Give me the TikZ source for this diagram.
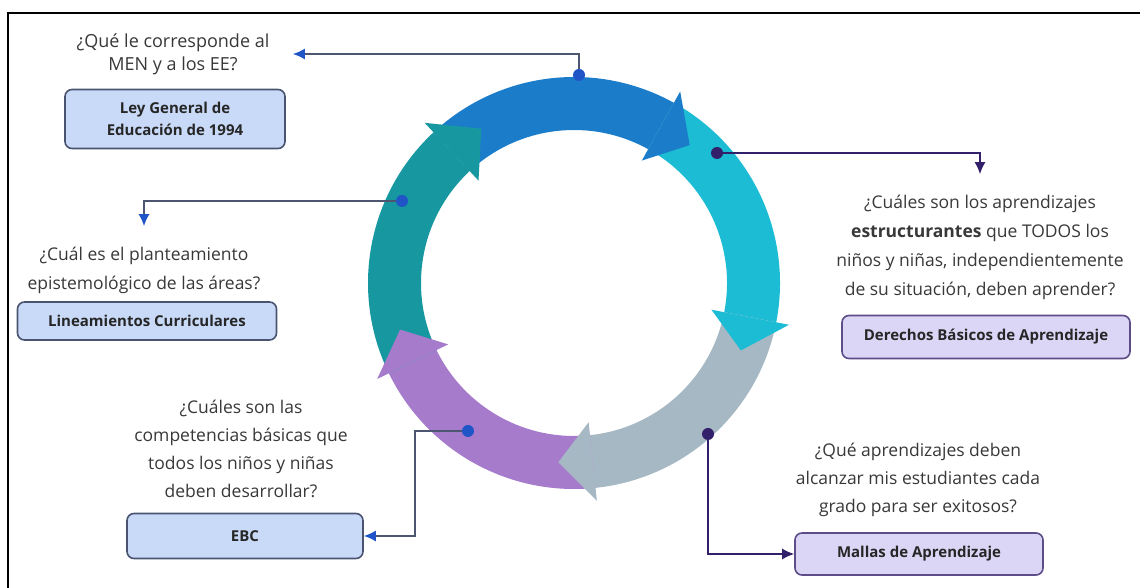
\documentclass[tikz,border=0pt]{standalone}
\usepackage{fontspec}
\setmainfont{Open Sans}
\usepackage{xcolor}
\usetikzlibrary{arrows.meta,positioning,calc}
\definecolor{ringblue}{HTML}{1B7DC9}
\definecolor{ringcyan}{HTML}{1DBCD5}
\definecolor{ringgray}{HTML}{A5B8C3}
\definecolor{ringpurple}{HTML}{A67BCC}
\definecolor{ringteal}{HTML}{17979F}
\definecolor{dotblue}{HTML}{1F55C6}
\definecolor{dotplum}{HTML}{33206A}
\definecolor{wireslate}{HTML}{4D5670}
\definecolor{boxblue}{HTML}{C9DAF8}
\definecolor{boxlila}{HTML}{DCD6F6}
\definecolor{boxedge}{HTML}{4A5470}
\definecolor{txtgray}{HTML}{383838}

\begin{document}
\begin{tikzpicture}[
    x=1pt,y=1pt,
    qs/.style    = {align=center,text=txtgray,font=\fontsize{17.5}{29}\selectfont},
    boxb/.style  = {rectangle,rounded corners=7pt,draw=boxedge,line width=1.6pt,fill=boxblue,
                    align=center,text=black!85,font=\fontsize{15}{22}\selectfont\bfseries},
    boxl/.style  = {boxb,fill=boxlila,draw=dotplum!80},
    dot/.style   = {circle,inner sep=0pt,minimum size=12pt},
    wb/.style    = {-{Latex[length=12pt,width=11pt,color=dotblue]},wireslate,line width=1.5pt},
    wp/.style    = {-{Latex[length=12pt,width=11pt,color=dotplum]},dotplum,line width=1.5pt},
  ]
  \useasboundingbox (0,0) rectangle (1140,588);
  \draw[line width=1.2pt] (8,575) rectangle (1160,-20);

  % ring of five arrows
  \def\Ro{206}\def\Ri{153}\def\Rm{180}\def\He{13}
  \begin{scope}[shift={(574,305)}]
    \foreach \col/\s/\b/\t in {ringblue/133/61/50,ringcyan/61/-11/-22,ringgray/-11/-84/-95,
                               ringpurple/276/206/195,ringteal/206/133/121}
      \fill[\col] (\s:\Ro pt) arc[start angle=\s,end angle=\b,radius=\Ro pt]
                  -- (\b:\Ri pt) arc[start angle=\b,end angle=\s,radius=\Ri pt] -- cycle;
    \foreach \col/\s/\b/\t in {ringblue/133/61/50,ringcyan/61/-11/-22,ringgray/-11/-84/-95,
                               ringpurple/276/206/195,ringteal/206/133/121}{
      \pgfmathsetmacro\hin{\Ri-\He}
      \pgfmathsetmacro\hout{\Ro+\He}
      \fill[\col] (\b:\hin pt) -- (\b:\hout pt) -- (\t:\Rm pt) -- cycle;
    }
  \end{scope}

  % dots on the ring
  \node[dot,fill=dotblue] (d1) at (579,513) {};
  \node[dot,fill=dotblue] (d2) at (402,387) {};
  \node[dot,fill=dotplum] (d3) at (717,435) {};
  \node[dot,fill=dotplum] (d4) at (708,154) {};
  \node[dot,fill=dotblue] (d5) at (468,157) {};

  % questions
  \node[qs,font=\fontsize{18}{23}\selectfont] (q1) at (173,534) {¿Qué le corresponde al\\MEN y a los EE?};
  \node[qs] (q2) at (144,318) {¿Cuál es el planteamiento\\epistemológico de las áreas?};
  \node[qs] (q3) at (980,341) {¿Cuáles son los aprendizajes\\\textbf{estructurantes} que TODOS los\\niños y niñas, independientemente\\de su situación, deben aprender?};
  \node[qs,font=\fontsize{17.5}{28}\selectfont] (q4) at (918,108) {¿Qué aprendizajes deben\\alcanzar mis estudiantes cada\\grado para ser exitosos?};
  \node[qs,font=\fontsize{17.5}{28}\selectfont] (q5) at (241,139) {¿Cuáles son las\\competencias básicas que\\todos los niños y niñas\\deben desarrollar?};

  % boxes
  \node[boxb,minimum width=220pt,minimum height=59pt] (b1) at (175,469) {Ley General de\\Educación de 1994};
  \node[boxb,minimum width=259pt,minimum height=38pt] (b2) at (147,267) {Lineamientos Curriculares};
  \node[boxl,minimum width=288pt,minimum height=43pt] (b3) at (986,251) {Derechos Básicos de Aprendizaje};
  \node[boxl,minimum width=248pt,minimum height=42pt] (b4) at (919,34) {Mallas de Aprendizaje};
  \node[boxb,minimum width=236pt,minimum height=45pt] (b5) at (245,52) {EBC};

  % connectors
  \draw[wb,shorten >=20pt] (d1) |- (q1.east);
  \draw[wb,shorten >=17pt] (d2) -| (q2.north);
  \draw[wp,shorten >=17pt] (d3) -| (q3.north);
  \draw[wp] (d4) |- (b4.west);
  \draw[wb] (d5) -- ++(-53,0) |- (b5.east);

\end{tikzpicture}
\end{document}
